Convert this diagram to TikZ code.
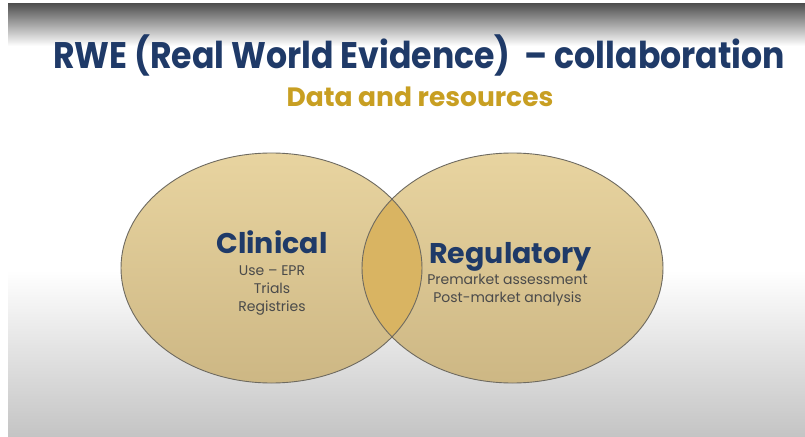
\documentclass[tikz,border=0pt]{standalone}
\usepackage{fontspec}
\setmainfont{Poppins}
\usetikzlibrary{shapes.geometric}
\definecolor{navy}{HTML}{1F3A68}
\definecolor{gold}{HTML}{C89F22}
\definecolor{subgray}{HTML}{4A4A4A}
\definecolor{ellTop}{HTML}{E8D4A0}
\definecolor{ellBot}{HTML}{CDB784}
\definecolor{lens}{HTML}{D9B462}
\definecolor{edge}{HTML}{6E6A60}
\tikzset{
  title/.style={anchor=base, inner sep=0pt, text=navy, font=\bfseries\fontsize{37}{40}\selectfont},
  subtitle/.style={anchor=base, inner sep=0pt, text=gold, font=\bfseries\fontsize{26.5}{30}\selectfont},
  head/.style={anchor=base, inner sep=0pt, text=navy, font=\bfseries\fontsize{28.5}{32}\selectfont},
  item/.style={anchor=base, inner sep=0pt, text=subgray, font=\fontsize{14}{16}\selectfont},
  circ/.style={ellipse, minimum width=301pt, minimum height=230pt, inner sep=0pt, top color=ellTop, bottom color=ellBot}
}
\begin{document}
\begin{tikzpicture}[x=1pt,y=-1pt]
\useasboundingbox (0,0) rectangle (805,436);
\fill[white] (0,0) rectangle (805,436);
\shade[top color=black!68, bottom color=white] (8,4) rectangle (805,46);
\shade[top color=white, bottom color=black!23] (8,270) rectangle (805,436);
% ellipses
\node[circ] (clin) at (271.5,268) {};
\node[circ] (reg) at (512.5,268) {};
\begin{scope}
  \clip (271.5,268) ellipse [x radius=150.5, y radius=115];
  \fill[lens] (512.5,268) ellipse [x radius=150.5, y radius=115];
\end{scope}
\draw[edge, line width=0.9pt] (271.5,268) ellipse [x radius=150.5, y radius=115];
\draw[edge, line width=0.9pt] (512.5,268) ellipse [x radius=150.5, y radius=115];
% texts
\node[title] (t) at (419,68) {\scalebox{0.895}[1]{RWE (Real World Evidence)\ \ – collaboration}};
\node[subtitle] (st) at (420,106) {Data and resources};
\node[head] (ch) at (272,253) {Clinical};
\node[item] (c1) at (272,275) {Use – EPR};
\node[item] (c2) at (272,293) {Trials};
\node[item] (c3) at (272,311) {Registries};
\node[head] (rh) at (510.5,263) {Regulatory};
\node[item] (r1) at (507.5,284) {Premarket assessment};
\node[item] (r2) at (507.5,302) {Post-market analysis};
\end{tikzpicture}
\end{document}
